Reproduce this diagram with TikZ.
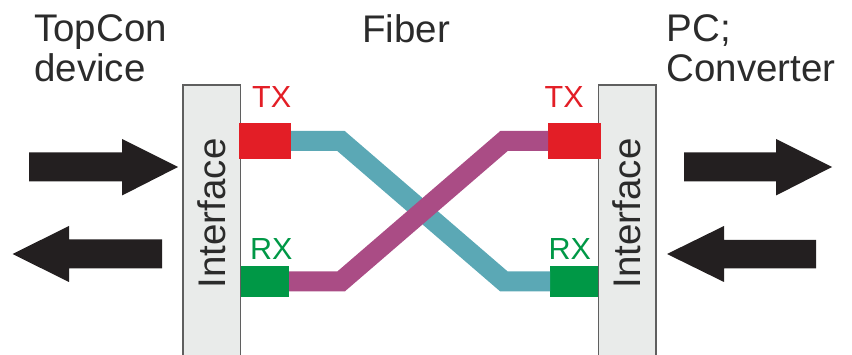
\documentclass[tikz,border=0pt]{standalone}
\usepackage{fontspec}
\setmainfont{Liberation Sans}
\definecolor{ifborder}{HTML}{5F5F5F}
\definecolor{iffill}{HTML}{E9EBEA}
\definecolor{arrowc}{HTML}{231F20}
\definecolor{txtc}{HTML}{2B2B2B}
\definecolor{txred}{HTML}{E31E26}
\definecolor{rxgreen}{HTML}{009846}
\definecolor{fteal}{HTML}{5BA8B5}
\definecolor{fmag}{HTML}{AA4C85}
\begin{document}
\begin{tikzpicture}[x=1pt,y=-1pt,
  iface/.style={draw=ifborder, line width=1.5pt, fill=iffill, inner sep=0pt, outer sep=0pt, anchor=north west, minimum width=57.5pt, minimum height=285pt},
  port/.style={draw=none, inner sep=0pt, outer sep=0pt},
  fiber/.style={line width=20pt, line join=miter},
  bigarrow/.style={fill=arrowc},
  lbl/.style={inner sep=0pt, text=txtc, font=\fontsize{38.5}{40}\selectfont},
  portlbl/.style={inner sep=0pt, anchor=base west, font=\fontsize{30.5}{32}\selectfont}]
\useasboundingbox (0,0) rectangle (852,355);
% interface boxes
\node[iface] (ifL) at (183,85) {};
\node[iface] (ifR) at (598.5,85) {};
\node[lbl, rotate=90, anchor=base] (ifLt) at (225.5,213.4) {Interface};
\node[lbl, rotate=90, anchor=base] (ifRt) at (640.5,213.4) {Interface};
% ports
\node[port, fill=txred, minimum width=52pt, minimum height=36pt] (txL) at (265,141) {};
\node[port, fill=rxgreen, minimum width=48pt, minimum height=31pt] (rxL) at (265,281.5) {};
\node[port, fill=txred, minimum width=52.5pt, minimum height=36pt] (txR) at (574.4,141) {};
\node[port, fill=rxgreen, minimum width=48pt, minimum height=31pt] (rxR) at (574,281.5) {};
% fibers
\draw[fiber, fteal] (txL.east) -- (341,141) -- (504,281.5) -- (rxR.west);
\draw[fiber, fmag] (rxL.east) -- (341,281.5) -- (504,141) -- (txR.west);
% port labels
\node[portlbl, text=txred] (txLt) at (252,108) {TX};
\node[portlbl, text=txred] (txRt) at (544.5,108) {TX};
\node[portlbl, text=rxgreen] (rxLt) at (250,260) {RX};
\node[portlbl, text=rxgreen] (rxRt) at (548.5,260) {RX};
% titles
\node[lbl, anchor=base west] (t1) at (34,41.7) {TopCon};
\node[lbl, anchor=base west] (t2) at (34,81.7) {device};
\node[lbl, anchor=base west] (t3) at (362,42.5) {Fiber};
\node[lbl, anchor=base west] (t4) at (666.5,41.7) {PC;};
\node[lbl, anchor=base west] (t5) at (666.5,81.7) {Converter};
% big arrows
\fill[bigarrow] (29,152.5) -- (122,152.5) -- (122,139) -- (178,167) -- (122,195.5) -- (122,181.5) -- (29,181.5) -- cycle;
\fill[bigarrow] (12.5,254) -- (69,226) -- (69,239.5) -- (162,239.5) -- (162,268.5) -- (69,268.5) -- (69,282) -- cycle;
\fill[bigarrow] (684,152.5) -- (776,152.5) -- (776,139) -- (832,167) -- (776,195.5) -- (776,181.5) -- (684,181.5) -- cycle;
\fill[bigarrow] (667,254) -- (724,226) -- (724,240) -- (816,240) -- (816,268.5) -- (724,268.5) -- (724,282) -- cycle;
\end{tikzpicture}
\end{document}
